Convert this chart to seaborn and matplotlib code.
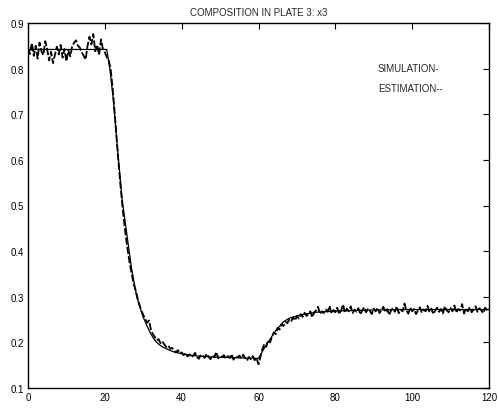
import numpy as np
import pandas as pd
import matplotlib
matplotlib.use("Agg")
import matplotlib.pyplot as plt
import seaborn as sns

# Simulation (solid, smooth)
sim_t = [0, 20.5, 21.3, 22.2, 23.3, 24.5, 26.0, 27.0, 28.3, 29.0, 30.0, 31.0, 32.0, 33.0, 34.0,
         35.0, 36.5, 38.0, 40.0, 43.0, 48.0, 55.0, 60.0,
         61.0, 62.0, 63.0, 64.5, 66.5, 68.0, 70.8, 75.0, 80.0, 90.0, 100.0, 110.0, 120.0]
sim_y = [0.842, 0.842, 0.80, 0.733, 0.624, 0.514, 0.42, 0.36, 0.30, 0.28, 0.255, 0.236, 0.218,
         0.205, 0.196, 0.19, 0.184, 0.179, 0.175, 0.171, 0.168, 0.166, 0.165,
         0.18, 0.194, 0.207, 0.226, 0.245, 0.253, 0.260, 0.266, 0.269, 0.271, 0.272, 0.272, 0.272]

# Estimation (dashed, noisy), sampled every 0.5
est_step = 0.5
est_y = [
    0.845, 0.832, 0.856, 0.828, 0.850, 0.822, 0.857, 0.838, 0.830, 0.860,
    0.842, 0.818, 0.837, 0.812, 0.830, 0.848, 0.831, 0.852, 0.824, 0.843,
    0.816, 0.840, 0.827, 0.849, 0.857, 0.862, 0.850, 0.846, 0.836, 0.828,
    0.820, 0.850, 0.870, 0.853, 0.876, 0.838, 0.852, 0.830, 0.864, 0.843, 0.836,
    0.825, 0.818, 0.80, 0.76, 0.71, 0.655, 0.60, 0.55, 0.505, 0.465,
    0.43, 0.40, 0.372, 0.35, 0.328, 0.315, 0.298, 0.283, 0.27, 0.26,
    0.252, 0.243, 0.248, 0.228, 0.218, 0.212, 0.205, 0.207, 0.198, 0.202,
    0.195, 0.19, 0.193, 0.186, 0.188, 0.182, 0.178, 0.183, 0.176, 0.178,
    0.172, 0.176, 0.169, 0.174, 0.167, 0.171, 0.177, 0.168, 0.164, 0.173,
    0.170, 0.166, 0.175, 0.169, 0.163, 0.171, 0.167, 0.179, 0.165, 0.170,
    0.168, 0.172, 0.164, 0.170, 0.166, 0.174, 0.162, 0.169, 0.167, 0.171,
    0.165, 0.173, 0.166, 0.160, 0.168, 0.163, 0.170, 0.161, 0.165, 0.152,
    0.168, 0.185, 0.196, 0.190, 0.205, 0.200, 0.212, 0.222, 0.218, 0.232,
    0.228, 0.240, 0.236, 0.245, 0.242, 0.250, 0.246, 0.255, 0.248, 0.258,
    0.252, 0.262, 0.256, 0.265, 0.258, 0.262, 0.268, 0.255, 0.266, 0.270,
    0.278, 0.262, 0.268, 0.264, 0.272, 0.267, 0.280, 0.263, 0.271, 0.266,
    0.276, 0.262, 0.270, 0.283, 0.265, 0.274, 0.268, 0.279, 0.264, 0.272,
    0.267, 0.275, 0.261, 0.270, 0.277, 0.266, 0.273, 0.269, 0.262, 0.274,
    0.268, 0.276, 0.264, 0.271, 0.278, 0.266, 0.273, 0.260, 0.270, 0.275,
    0.267, 0.279, 0.264, 0.272, 0.268, 0.285, 0.270, 0.263, 0.276, 0.268,
    0.273, 0.262, 0.270, 0.277, 0.265, 0.272, 0.268, 0.280, 0.266, 0.274,
    0.262, 0.270, 0.276, 0.267, 0.273, 0.263, 0.279, 0.270, 0.266, 0.275,
    0.268, 0.281, 0.265, 0.273, 0.270, 0.284, 0.263, 0.274, 0.268, 0.277,
    0.266, 0.272, 0.279, 0.267, 0.275, 0.270, 0.264, 0.276, 0.271, 0.274,
]
est_t = np.arange(len(est_y)) * est_step

x_ticks = [0, 20, 40, 60, 80, 100, 120]
y_ticks = [0.1, 0.2, 0.3, 0.4, 0.5, 0.6, 0.7, 0.8, 0.9]
tick_labels_y = ["0.1", "0.2", "0.3", "0.4", "0.5", "0.6", "0.7", "0.8", "0.9"]

sns.set_style("white")
plt.rcParams['font.family'] = ['Liberation Sans', 'DejaVu Sans']

fig = plt.figure(figsize=(4.98, 4.10), dpi=100)
ax = fig.add_axes([28/498, 21/410, (489-28)/498, (389-24)/410])

df_sim = pd.DataFrame({"t": sim_t, "y": sim_y})
df_est = pd.DataFrame({"t": est_t, "y": est_y})
sns.lineplot(data=df_sim, x="t", y="y", ax=ax, color="black", lw=0.9)
sns.lineplot(data=df_est, x="t", y="y", ax=ax, color="black", lw=1.3, dashes=False)
ax.lines[-1].set_dashes((4, 1.2))

ax.set_xlim(0, 120)
ax.set_ylim(0.1, 0.9)
ax.set_xticks(x_ticks)
ax.set_xticklabels([str(v) for v in x_ticks])
ax.set_yticks(y_ticks)
ax.set_yticklabels(tick_labels_y)
ax.set_xlabel("")
ax.set_ylabel("")
ax.tick_params(direction="in", length=4, width=0.8, labelsize=7, colors="black",
               top=True, right=True, pad=3)
for s in ax.spines.values():
    s.set_visible(True)
    s.set_color("black")
    s.set_linewidth(1.0)

ax.set_title("COMPOSITION IN PLATE 3: x3", fontsize=7, pad=6)
ax.text(91.1, 0.801, "SIMULATION-", fontsize=7, va="center", ha="left")
ax.text(91.1, 0.758, "ESTIMATION--", fontsize=7, va="center", ha="left")

fig.savefig("out.png", dpi=100)
